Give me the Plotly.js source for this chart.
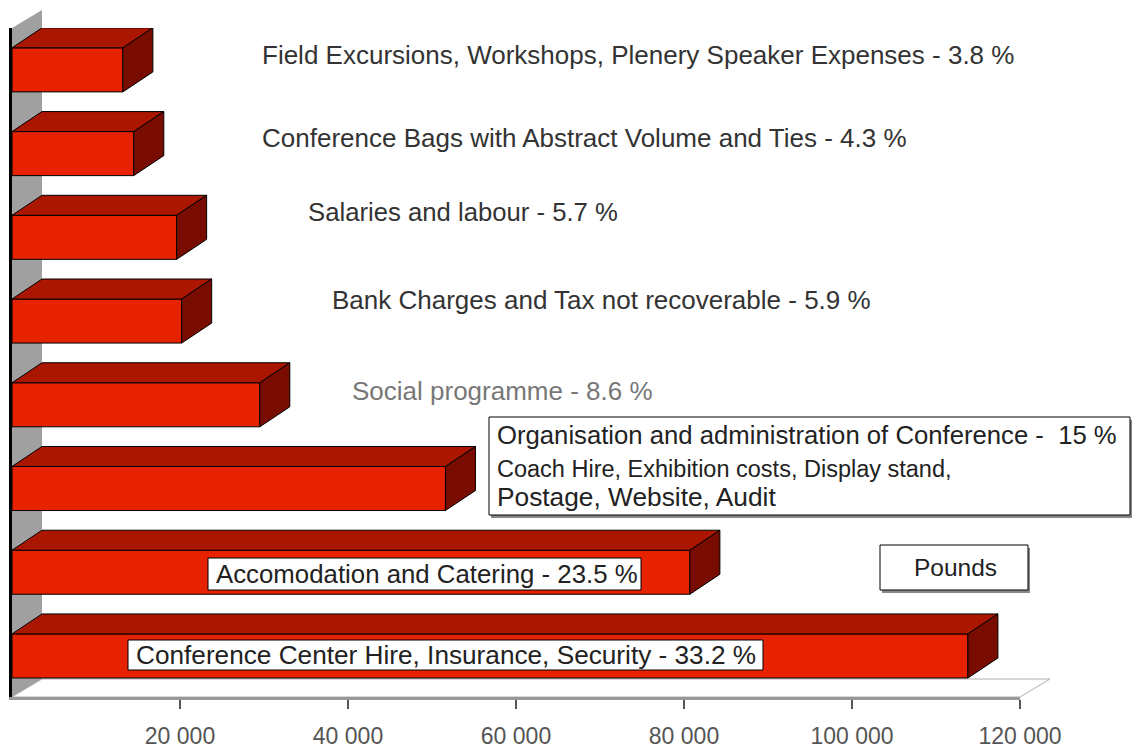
<!DOCTYPE html>
<html><head><meta charset="utf-8">
<script src="https://cdn.plot.ly/plotly-3.0.1.min.js"></script>
<style>html,body{margin:0;padding:0;background:#fff}#chart{width:1132px;height:751px}</style>
</head><body><div id="chart"></div>
<script>
// ---- data (top bar first) ----
const categories = [
  "Field Excursions, Workshops, Plenery Speaker Expenses",
  "Conference Bags with Abstract Volume and Ties",
  "Salaries and labour",
  "Bank Charges and Tax not recoverable",
  "Social programme",
  "Organisation and administration of Conference",
  "Accomodation and Catering",
  "Conference Center Hire, Insurance, Security"
];
const pounds = [13200, 14500, 19600, 20200, 29500, 51600, 80700, 113800];
const percents = ["3.8", "4.3", "5.7", "5.9", "8.6", "15", "23.5", "33.2"];
const orgDetails = ["Coach Hire, Exhibition costs, Display stand,", "Postage, Website, Audit"];
const tickValues = [20000, 40000, 60000, 80000, 100000, 120000];
const unitLabel = "Pounds";

// ---- layout constants ----
const W = 1132, H = 751, ML = 12, MR = 112, MT = 28, MB = 54;
const PW = W - ML - MR, PH = H - MT - MB;
const XMAX = 120000, YRANGE = [7.49, -0.5];
const BARW = 0.526;
const DXP = 30, DYP = 20;                       // 3-D depth in pixels
const DX = DXP * XMAX / PW;
const DY = DYP * Math.abs(YRANGE[0] - YRANGE[1]) / PH;
const FRONT = "#e62200", TOP = "#aa1600", SIDE = "#780c00";
const FONT = "Liberation Sans, Arial, sans-serif";
const px = v => (v - ML) / PW;                  // pixel -> paper
const py = v => (H - MB - v) / PH;

const idx = categories.map((_, i) => i);
const shapes = [];

// back wall (left) and floor
shapes.push({type: "path", xref: "paper", yref: "paper", layer: "below",
  path: `M ${px(12)},${py(697)} L ${px(12)},${py(28)} L ${px(42)},${py(10)} L ${px(42)},${py(679)} Z`,
  fillcolor: "#a0a0a0", line: {width: 0}});
shapes.push({type: "path", xref: "paper", yref: "paper", layer: "below",
  path: `M ${px(12)},${py(697)} L ${px(1020)},${py(697)} L ${px(1050)},${py(679)} L ${px(42)},${py(679)} Z`,
  fillcolor: "#ffffff", line: {color: "#b0b0b0", width: 1}});

// 3-D faces of every bar
idx.forEach(i => {
  const v = pounds[i], t = i - BARW / 2, b = i + BARW / 2;
  shapes.push({type: "path", xref: "x", yref: "y", layer: "above",
    path: `M 0,${t} L ${DX},${t - DY} L ${v + DX},${t - DY} L ${v},${t} Z`,
    fillcolor: TOP, line: {color: "#000", width: 1}});
  shapes.push({type: "path", xref: "x", yref: "y", layer: "above",
    path: `M ${v},${t} L ${v + DX},${t - DY} L ${v + DX},${b - DY} L ${v},${b} Z`,
    fillcolor: SIDE, line: {color: "#000", width: 1}});
});

// label boxes
function box(x0, y0, x1, y1, shadow) {
  if (shadow) shapes.push({type: "rect", xref: "paper", yref: "paper",
    x0: px(x0 + 2), x1: px(x1 + 2), y0: py(y1 + 3), y1: py(y0 + 3),
    fillcolor: "#888", line: {width: 0}});
  shapes.push({type: "rect", xref: "paper", yref: "paper",
    x0: px(x0), x1: px(x1), y0: py(y1), y1: py(y0),
    fillcolor: "#fff", line: {color: "#000", width: 1}});
}
box(489, 417, 1130, 515, true);
box(208, 558, 641, 590, false);
box(128, 640, 763, 670, false);
box(880, 545, 1028, 590, true);

const label = i => categories[i] + " - " + percents[i] + " %";
const annotations = [];
function txt(text, x, y, size, color, anchor) {
  annotations.push({text: text, xref: "paper", yref: "paper", x: px(x), y: py(y),
    xanchor: anchor || "left", yanchor: "middle", showarrow: false,
    font: {family: FONT, size: size, color: color || "#333"}});
}
txt(label(0), 260, 55, 26);
txt(label(1), 260, 138, 26);
txt(label(2), 306, 212, 25.7);
txt(label(3), 330, 300, 26);
txt(label(4), 350, 391, 26, "#777");
txt(categories[5] + " -  " + percents[5] + " %", 495, 435, 25.7, "#222");
txt(orgDetails[0], 495, 469, 23.5, "#222");
txt(orgDetails[1], 495, 497, 26.3, "#222");
txt(label(6), 214, 574, 25.8, "#222");
txt(label(7), 134, 655, 26.2, "#222");
txt(unitLabel, 955, 567, 24.5, "#222", "center");

const data = [{
  type: "bar", orientation: "h", x: pounds, y: idx, width: BARW,
  marker: {color: FRONT, line: {color: "#000", width: 1}},
  hoverinfo: "skip", showlegend: false
}];

const layout = {
  width: W, height: H, margin: {l: ML, r: MR, t: MT, b: MB},
  paper_bgcolor: "#fff", plot_bgcolor: "rgba(0,0,0,0)",
  separators: ". ",
  font: {family: FONT},
  xaxis: {range: [0, XMAX], tickvals: tickValues, tickformat: ",d",
    showline: true, linecolor: "#999", linewidth: 3, ticks: "outside", ticklen: 9,
    tickwidth: 2, tickcolor: "#555", showgrid: false, zeroline: false,
    tickfont: {family: FONT, size: 23, color: "#555"}, ticklabelstandoff: 7},
  yaxis: {range: YRANGE, showline: true, linecolor: "#000", linewidth: 3,
    showticklabels: false, ticks: "", showgrid: false, zeroline: false},
  shapes: shapes, annotations: annotations, showlegend: false, bargap: 0
};
Plotly.newPlot("chart", data, layout, {staticPlot: true});
</script></body></html>
